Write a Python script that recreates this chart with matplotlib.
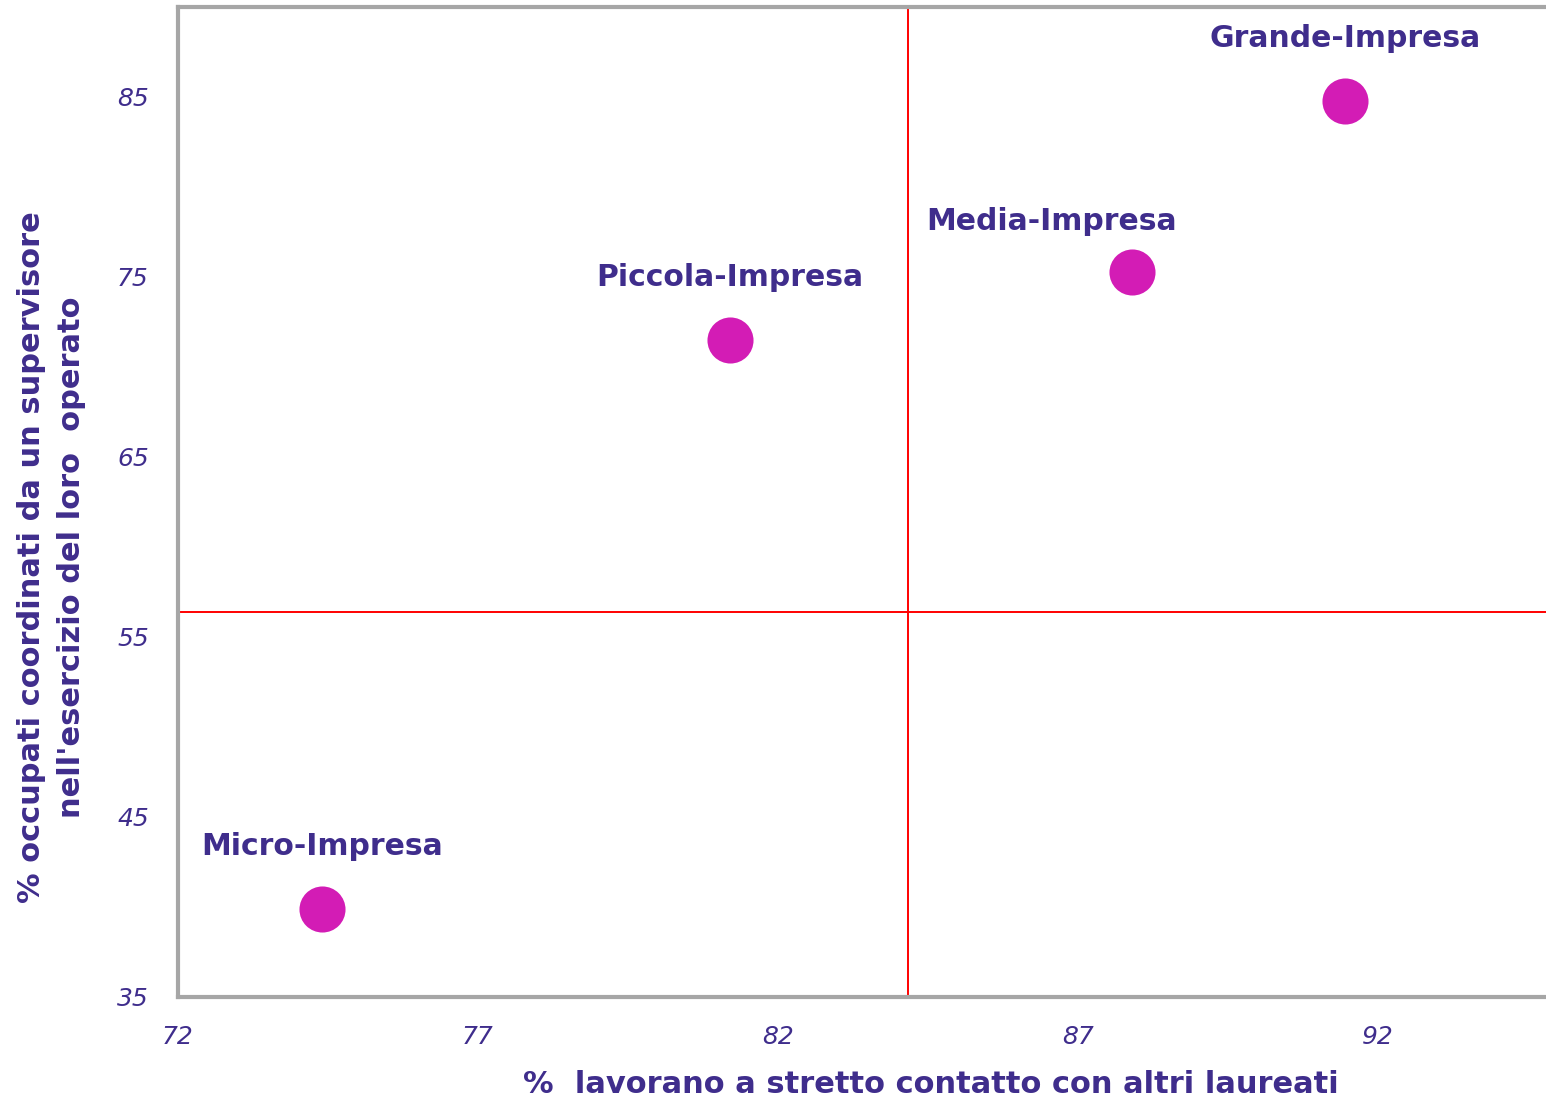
import numpy as np
import matplotlib.pyplot as plt

plt.rcParams['font.family'] = ['DejaVu Sans']

categorie = ['Micro-Impresa', 'Piccola-Impresa', 'Media-Impresa', 'Grande-Impresa']
contatto_laureati = [74.4, 81.2, 87.9, 91.45]
supervisore = [39.9, 71.5, 75.3, 84.8]
# offset etichette (punti tipografici)
offset_x = [0, 0, -58, 0]
offset_y = [45, 45, 36, 45]

linea_x = 84.17
linea_y = 56.4

testo = '#3F2D8C'
punto = '#D31CB5'
grigio = '#A6A6A6'

fig = plt.figure(figsize=(15.46, 11.06), dpi=100)
ax = fig.add_axes([178 / 1546, 109 / 1106, 1 - 178 / 1546, 990 / 1106])

ax.axvline(linea_x, color='#FF0000', lw=1.4, zorder=1)
ax.axhline(linea_y, color='#FF0000', lw=1.4, zorder=1)
ax.scatter(contatto_laureati, supervisore, s=1100, color=punto, zorder=3, linewidths=0)

for nome, x, y, dx, dy in zip(categorie, contatto_laureati, supervisore, offset_x, offset_y):
    ax.annotate(nome, (x, y), xytext=(dx, dy), textcoords='offset points',
                ha='center', va='center', fontsize=21.5, fontweight='bold', color=testo)

ax.set_xlim(72, 94.8)
ax.set_ylim(35, 90)
ax.set_xticks([72, 77, 82, 87, 92])
ax.set_yticks([35, 45, 55, 65, 75, 85])
ax.tick_params(length=0, labelsize=18, labelcolor=testo)
ax.tick_params(axis='x', pad=20)
ax.tick_params(axis='y', pad=21)
for lab in ax.get_xticklabels() + ax.get_yticklabels():
    lab.set_fontstyle('italic')

for lato in ['left', 'bottom', 'top']:
    ax.spines[lato].set_color(grigio)
    ax.spines[lato].set_linewidth(3)
ax.spines['right'].set_visible(False)

ax.set_xlabel('%  lavorano a stretto contatto con altri laureati', fontsize=22,
              fontweight='bold', color=testo)
ax.set_ylabel("% occupati coordinati da un supervisore\nnell'esercizio del loro  operato",
              fontsize=22, fontweight='bold', color=testo, linespacing=1.5)
ax.xaxis.set_label_coords(0.55, -0.074)
ax.yaxis.set_label_coords(-0.067, 0.444)

fig.savefig('out.png', dpi=100)
